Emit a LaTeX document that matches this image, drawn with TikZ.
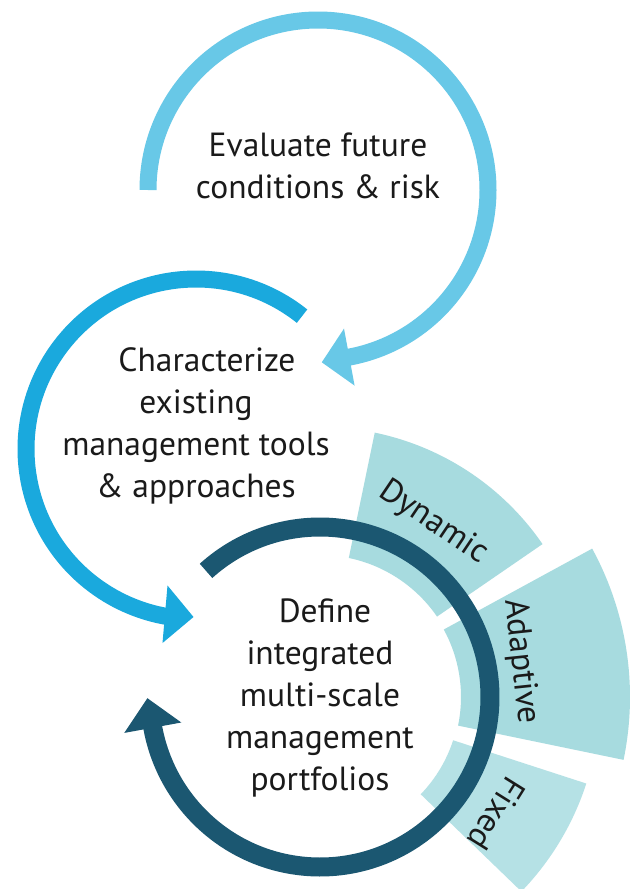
\documentclass[tikz,border=0pt]{standalone}
\usepackage{fontspec}
\setmainfont{PT Sans}
\usetikzlibrary{calc}
\definecolor{lightblue}{HTML}{68C8E7}
\definecolor{midblue}{HTML}{1AA9DD}
\definecolor{darkteal}{HTML}{1B5771}
\definecolor{sectorteal}{HTML}{A7DBDF}
\definecolor{sectorfixed}{HTML}{B5E1E5}
\definecolor{textcol}{HTML}{1A1A1A}
\begin{document}
\begin{tikzpicture}[x=1pt,y=-1pt,
  ringtop/.style={draw=lightblue, line width=17pt},
  ringmid/.style={draw=midblue, line width=17pt},
  ringdark/.style={draw=darkteal, line width=19pt},
  sector/.style={fill=sectorteal},
  sectorlight/.style={fill=sectorfixed},
  lbl/.style={font=\fontsize{33.5}{42}\selectfont, align=center, inner sep=0pt, text=textcol},
  slbl/.style={font=\fontsize{33.5}{36}\selectfont, inner sep=0pt, text=textcol}]
\useasboundingbox[fill=white] (0,0) rectangle (630,889);
\coordinate (c1) at (318,190);
\coordinate (c2) at (196,449);
\coordinate (c3) at (320,697);

% sectors behind the dark ring
\fill[sector] ($(c3)+(-78.3:142)$) arc[start angle=-78.3,end angle=-34.5,radius=142]
  -- ($(c3)+(-34.5:270)$) arc[start angle=-34.5,end angle=-78.3,radius=270] -- cycle;
\fill[sector] ($(c3)+(-28.6:141)$) arc[start angle=-28.6,end angle=11.7,radius=141]
  -- ($(c3)+(11.7:310)$) arc[start angle=11.7,end angle=-28.6,radius=310] -- cycle;
\fill[sectorlight] ($(c3)+(18:140)$) arc[start angle=18,end angle=44,radius=140]
  -- ($(c3)+(44:280)$) arc[start angle=44,end angle=18,radius=280] -- cycle;

% top ring
\draw[ringtop] ($(c1)+(180:170)$) arc[start angle=180,end angle=440.5,radius=170];
\coordinate (t1) at (321.8,362.3);
\fill[lightblue] (344.0,328.6) -- (t1) -- (354.6,385.6) -- cycle;

% middle ring
\draw[ringmid] ($(c2)+(-51.4:170)$) arc[start angle=-51.4,end angle=-260.5,radius=170];
\coordinate (t2) at (193.5,617);
\fill[midblue] (167.5,585.5) -- (t2) -- (162.5,643) -- cycle;

% dark ring
\draw[ringdark] ($(c3)+(-132.1:170)$) arc[start angle=-132.1,end angle=170.7,radius=170];
\coordinate (t3) at (147.4,698.2);
\fill[darkteal] (124.3,732.9) -- (t3) -- (181.3,722.5) -- cycle;

% texts (base anchor = baseline of last line)
\node[lbl, anchor=base] (eval) at (318,198) {Evaluate future\\conditions \& risk};
\node[lbl, anchor=base] (char) at (196,497) {\hspace*{22pt}Characterize\\existing\\management tools\\\& approaches};
\node[lbl, anchor=base] (def) at (320,790) {\hspace*{10pt}Define\\integrated\\multi-scale\\management\\portfolios};

\node[slbl, rotate=-34] (dyn) at ($(c3)+(-57:208)$) {Dynamic};
\node[slbl, rotate=-84] (ada) at ($(c3)+(-10:204)$) {Adaptive};
\node[slbl, rotate=-122] (fix) at ($(c3)+(33.5:212)$) {Fixed};
\end{tikzpicture}
\end{document}
